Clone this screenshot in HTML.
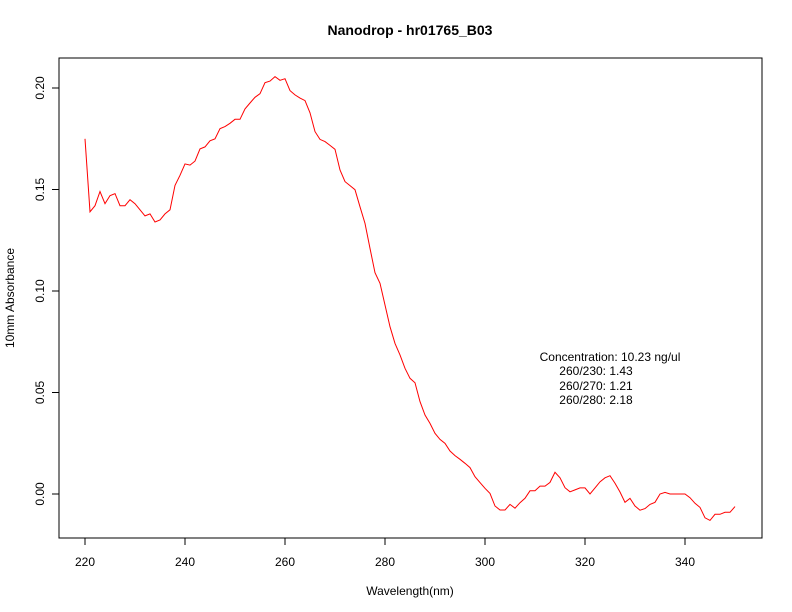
<!DOCTYPE html>
<html><head><meta charset="utf-8"><style>
html,body{margin:0;padding:0;background:#fff}
svg{display:block;font-family:"Liberation Sans",sans-serif}
</style></head><body>
<svg id="chart" width="792" height="612">
<text x="410" y="35" text-anchor="middle" font-size="14" font-weight="bold">Nanodrop - hr01765_B03</text>
<rect x="59" y="58" width="703" height="480" fill="none" stroke="#000" stroke-width="1"/>
<g id="xaxis"></g>
<g id="yaxis"></g>
<text x="410" y="595" text-anchor="middle" font-size="12">Wavelength(nm)</text>
<text transform="translate(14,298) rotate(-90)" text-anchor="middle" font-size="12">10mm Absorbance</text>
<polyline id="series" fill="none" stroke="#ff0000" stroke-width="1"/>
<g font-size="12" text-anchor="middle">
<text x="610" y="361">Concentration: 10.23 ng/ul</text>
<text x="596" y="375">260/230: 1.43</text>
<text x="596" y="390">260/270: 1.21</text>
<text x="596" y="404">260/280: 2.18</text>
</g>
</svg>
<script>
const wlStart = 220;
const absorbance = [0.175,0.139,0.142,0.149,0.143,0.147,0.148,0.142,0.142,0.145,0.143,0.140,0.137,0.138,0.134,0.135,0.138,0.140,0.152,0.157,0.1626,0.162,0.164,0.170,0.171,0.174,0.175,0.180,0.181,0.1826,0.1846,0.1846,0.1897,0.1926,0.1954,0.1972,0.2026,0.2034,0.2056,0.2038,0.2046,0.1987,0.1966,0.195,0.1938,0.1878,0.1785,0.1747,0.1736,0.1717,0.1698,0.1596,0.1539,0.1519,0.1499,0.1415,0.1333,0.121,0.109,0.1038,0.0931,0.0824,0.0742,0.0685,0.0619,0.057,0.0548,0.0455,0.0389,0.0348,0.0299,0.0269,0.025,0.0212,0.0189,0.0171,0.0151,0.013,0.0085,0.0056,0.0028,0.0003,-0.0059,-0.0079,-0.0079,-0.0051,-0.007,-0.0043,-0.0021,0.0016,0.0016,0.0039,0.0039,0.0057,0.0107,0.008,0.0031,0.0011,0.002,0.003,0.003,0.0,0.003,0.006,0.008,0.009,0.0053,0.001,-0.0041,-0.0021,-0.0059,-0.008,-0.0072,-0.0051,-0.0041,0.0,0.0008,0.0,0.0,0.0,0.0,-0.0018,-0.0046,-0.0066,-0.0117,-0.013,-0.01,-0.01,-0.009,-0.009,-0.0062];
const xTicks = [220,240,260,280,300,320,340];
const yTicks = [0.00,0.05,0.10,0.15,0.20];
const yTickLabels = ["0.00","0.05","0.10","0.15","0.20"];
const NS="http://www.w3.org/2000/svg";
function xs(v){return 85+(v-220)*5;}
function ys(v){return 494-v*2030;}
const pts=absorbance.map((v,i)=>xs(wlStart+i).toFixed(1)+","+ys(v).toFixed(1)).join(" ");
document.getElementById('series').setAttribute('points',pts);
const xa=document.getElementById('xaxis');
const ln=document.createElementNS(NS,'line');


ln.setAttribute('x1',xs(xTicks[0]));ln.setAttribute('x2',xs(xTicks[xTicks.length-1]));ln.setAttribute('y1',538);ln.setAttribute('y2',538);ln.setAttribute('stroke','#000');
xa.appendChild(ln);
xTicks.forEach(t=>{
 const l=document.createElementNS(NS,'line');
 
 
 l.setAttribute('x1',xs(t));l.setAttribute('x2',xs(t));l.setAttribute('y1',538);l.setAttribute('y2',545);l.setAttribute('stroke','#000');
 xa.appendChild(l);
 const tx=document.createElementNS(NS,'text');
 
 
 tx.setAttribute('x',xs(t));tx.setAttribute('y',566);tx.setAttribute('text-anchor','middle');tx.setAttribute('font-size','12');
 tx.textContent=t;xa.appendChild(tx);
});
const ya=document.getElementById('yaxis');
const yl=document.createElementNS(NS,'line');


yl.setAttribute('x1',59);yl.setAttribute('x2',59);yl.setAttribute('y1',ys(yTicks[0]));yl.setAttribute('y2',ys(yTicks[yTicks.length-1]));yl.setAttribute('stroke','#000');
ya.appendChild(yl);
yTicks.forEach((t,i)=>{
 const l=document.createElementNS(NS,'line');
 
 
 l.setAttribute('x1',52);l.setAttribute('x2',59);l.setAttribute('y1',ys(t));l.setAttribute('y2',ys(t));l.setAttribute('stroke','#000');
 ya.appendChild(l);
 const tx=document.createElementNS(NS,'text');
 
 
 tx.setAttribute('transform','translate(44,'+ys(t)+') rotate(-90)');tx.setAttribute('text-anchor','middle');tx.setAttribute('font-size','12');
 tx.textContent=yTickLabels[i];ya.appendChild(tx);
});
</script>
</body></html>
